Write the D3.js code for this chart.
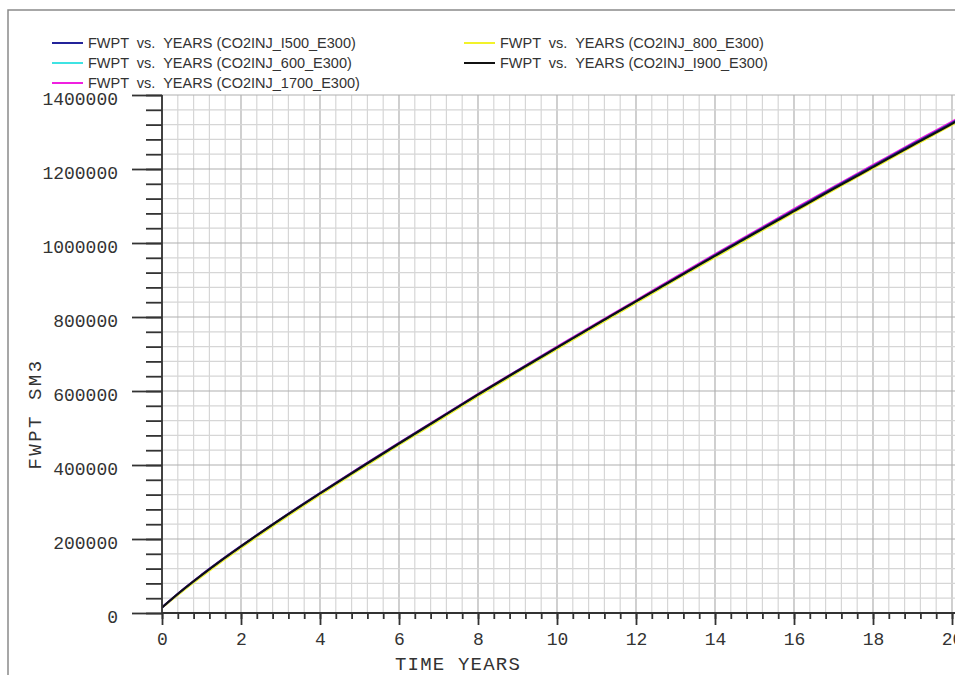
<!doctype html><html><head>
<style>
  body { margin: 0; background: #fff; }
  svg { display: block; }
</style>
</head><body><script src='https://d3js.org/d3.v7.min.js'></script>

<script>
// Dimensions
const width  = 955;  const height = 675;
const x0 = 162, x1 = 952;     // pixel of t=0 and t=20
const yTop = 95, yBot = 613;  // pixel of 1400000 and 0

// Data (time in years, FWPT in SM3)
const years    = [0, 0.5, 1, 1.5, 2, 3, 4, 5, 6, 7, 8, 9, 10, 11, 12, 13, 14, 15, 16, 17, 18, 19, 20, 20.1];
const fwpt1500 = [15000, 61000, 103000, 143000, 181000, 254000, 324000, 392000, 459000, 525000, 591000, 655000, 718000, 781000, 843000, 905000, 967000, 1028000, 1089000, 1149000, 1208000, 1267000, 1325000, 1331000];
const fwpt600  = [15000, 60000, 102000, 142000, 180000, 253000, 323000, 391000, 458000, 524000, 590000, 654000, 717000, 780000, 842000, 904000, 965000, 1026000, 1087000, 1147000, 1206000, 1265000, 1323000, 1329000];
const fwpt1700 = [15000, 61000, 103000, 143000, 181000, 254000, 324000, 393000, 460000, 526000, 592000, 656000, 720000, 783000, 845000, 908000, 970000, 1031000, 1092000, 1152000, 1211000, 1270000, 1328000, 1334000];
const fwpt800  = [14000, 57000, 98000, 138000, 176000, 249000, 319000, 387000, 454000, 520000, 586000, 650000, 713000, 776000, 838000, 900000, 961000, 1022000, 1083000, 1143000, 1202000, 1261000, 1319000, 1325000];
const fwpt900  = [15000, 60000, 102000, 142000, 180000, 253000, 323000, 391000, 458000, 524000, 590000, 654000, 717000, 780000, 842000, 904000, 965000, 1026000, 1086000, 1146000, 1205000, 1264000, 1322000, 1328000];

const seriesNames  = ["FWPT  vs.  YEARS (CO2INJ_I500_E300)", "FWPT  vs.  YEARS (CO2INJ_600_E300)", "FWPT  vs.  YEARS (CO2INJ_1700_E300)",
                      "FWPT  vs.  YEARS (CO2INJ_800_E300)", "FWPT  vs.  YEARS (CO2INJ_I900_E300)"];
const seriesValues = [fwpt1500, fwpt600, fwpt1700, fwpt800, fwpt900];
const seriesColors = ["#23239a", "#3fe3e3", "#f020e0", "#f2f22a", "#111111"];
const drawOrder    = [3, 1, 2, 0, 4];

const xMajor = d3.range(0, 20.01, 2);
const xMinor = d3.range(0, 20.5, 0.4);
const yMajor = d3.range(0, 1400001, 200000);
const yMinor = d3.range(0, 1400001, 40000);

const svg = d3.select("body").append("svg")
              .attr("width", width).attr("height", height);

// outer frame
svg.append("path").attr("d", `M8,${height} V10 H${width}`)
   .attr("fill", "none").attr("stroke", "#8a8a8a").attr("stroke-width", 1.5);

const x = d3.scaleLinear().domain([0, 20]).range([x0, x1]);
const y = d3.scaleLinear().domain([0, 1400000]).range([yBot, yTop]);

// grid
const grid = svg.append("g");
grid.selectAll(".vmin").data(xMinor).join("line")
    .attr("x1", d => x(d)).attr("x2", d => x(d)).attr("y1", yTop).attr("y2", yBot)
    .attr("stroke", d => Math.abs(d/2 - Math.round(d/2)) < 1e-6 ? "#b0b0b0" : "#d6d6d6").attr("stroke-width", 1.2);
grid.selectAll(".hmin").data(yMinor).join("line")
    .attr("x1", x0).attr("x2", width).attr("y1", d => y(d)).attr("y2", d => y(d))
    .attr("stroke", d => d % 200000 === 0 ? "#b0b0b0" : "#d6d6d6").attr("stroke-width", 1.2);

// lines
svg.append("clipPath").attr("id", "clip").append("rect")
   .attr("x", x0).attr("y", yTop - 5).attr("width", width - x0).attr("height", yBot - yTop + 5);
const line = d3.line().curve(d3.curveMonotoneX);
drawOrder.forEach(i => {
  svg.append("path")
     .datum(years.map((t, k) => [x(t), y(seriesValues[i][k])]))
     .attr("clip-path", "url(#clip)")
     .attr("fill", "none").attr("stroke", seriesColors[i]).attr("stroke-width", 2)
     .attr("d", line);
});

// axes
const axisFont = "'Liberation Mono', 'Courier New', monospace";
const yAxMin = svg.append("g").attr("transform", `translate(${x0},0)`)
   .call(d3.axisLeft(y).tickValues(yMinor).tickSize(16).tickFormat(""));
const yAxMaj = svg.append("g").attr("transform", `translate(${x0},0)`)
   .call(d3.axisLeft(y).tickValues(yMajor).tickSize(30).tickPadding(14).tickFormat(d3.format("d")));
const xAxMin = svg.append("g").attr("transform", `translate(0,${yBot})`)
   .call(d3.axisBottom(x).tickValues(xMinor.filter(d => d <= 20.2)).tickSize(6).tickFormat(""));
const xAxMaj = svg.append("g").attr("transform", `translate(0,${yBot})`)
   .call(d3.axisBottom(x).tickValues(xMajor).tickSize(12).tickPadding(7).tickFormat(d3.format("d")));

[yAxMin, yAxMaj, xAxMin, xAxMaj].forEach(g => {
  g.select(".domain").remove();
  g.selectAll("line").attr("stroke", "#333").attr("stroke-width", 1.8);
  g.selectAll("text").attr("font-family", axisFont).attr("font-size", 18).attr("fill", "#333");
});
yAxMaj.selectAll("text").attr("dy", "0.55em");
xAxMin.selectAll(".tick").filter(d => d > 20.05).remove();

svg.append("line").attr("x1", x0).attr("x2", x0).attr("y1", yTop).attr("y2", yBot)
   .attr("stroke", "#333").attr("stroke-width", 1.8);
svg.append("line").attr("x1", x0).attr("x2", width).attr("y1", yBot).attr("y2", yBot)
   .attr("stroke", "#333").attr("stroke-width", 1.8);

// axis titles
svg.append("text").attr("x", 458).attr("y", 670).attr("text-anchor", "middle")
   .attr("font-family", axisFont).attr("font-size", 19).attr("letter-spacing", 1.2)
   .attr("fill", "#333").text("TIME YEARS");
svg.append("text").attr("transform", "translate(41,414) rotate(-90)").attr("text-anchor", "middle")
   .attr("font-family", axisFont).attr("font-size", 19).attr("letter-spacing", 2.5)
   .attr("fill", "#333").text("FWPT SM3");

// legend
const legendPos = [[52, 43], [52, 63], [52, 83], [464, 43], [464, 63]];
const legend = svg.append("g");
seriesNames.forEach((name, i) => {
  const [lx, ly] = legendPos[i];
  legend.append("line").attr("x1", lx).attr("x2", lx + 31).attr("y1", ly).attr("y2", ly)
        .attr("stroke", seriesColors[i]).attr("stroke-width", 2);
  legend.append("text").attr("x", lx + 36).attr("y", ly + 5)
        .attr("font-family", "'Liberation Sans', Arial, sans-serif").attr("font-size", 14.5)
        .attr("fill", "#333").style("white-space", "pre").text(name);
});
</script></body></html>
